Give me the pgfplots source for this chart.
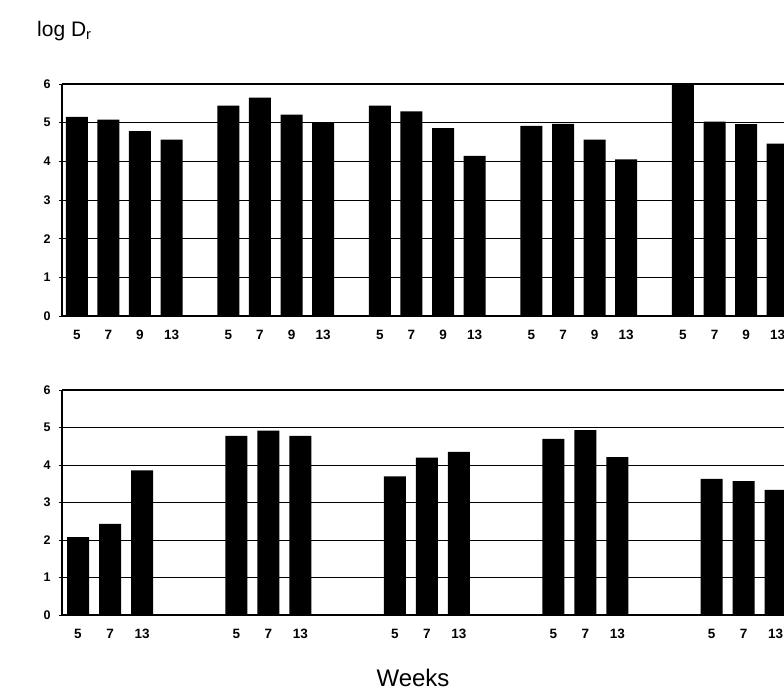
\documentclass[border=0pt]{standalone}
\usepackage{fontspec}
\setmainfont{Liberation Sans}
\usepackage{pgfplots}
\pgfplotsset{compat=1.18}
\pgfplotsset{
  panel/.style={
    scale only axis, width=722bp, anchor=south west,
    ymin=0, ymax=6, ytick={0,1,2,3,4,5},
    extra y ticks={6},
    extra y tick style={grid=major, major grid style={black, line width=2bp}},
    ymajorgrids, major grid style={black, line width=0.8bp},
    axis x line=bottom, axis y line=left,
    axis line style={-, black, line width=1.6bp},
    ytick style={black, line width=0.8bp}, major tick length=3bp, tick align=outside,
    xtick style={draw=none},
    yticklabel style={font=\fontsize{12.5bp}{12.5bp}\selectfont\bfseries, xshift=-5bp},
    xticklabel style={font=\fontsize{13.5bp}{13.5bp}\selectfont\bfseries, yshift=-8bp},
    /pgf/number format/assume math mode=true,
    clip=true,
  }
}
\begin{document}
\begin{tikzpicture}
\useasboundingbox (0,0) rectangle (784bp,-691bp);
\node[anchor=base west, inner sep=0] at (37bp,-36.5bp) {\fontsize{21bp}{21bp}\selectfont log D\textsubscript{r}};
\node[anchor=base, inner sep=0] at (413bp,-686bp) {\fontsize{24bp}{24bp}\selectfont Weeks};
\begin{axis}[panel, at={(62bp,-316bp)}, height=232bp, xmin=-0.47, xmax=22.4,
  xtick={0,1,2,3,4.8,5.8,6.8,7.8,9.6,10.6,11.6,12.6,14.4,15.4,16.4,17.4,19.2,20.2,21.2,22.2},
  xticklabels={5,7,9,13,5,7,9,13,5,7,9,13,5,7,9,13,5,7,9,13}]
\addplot[ybar, fill=black, draw=none, bar width=22bp] coordinates {
(0,5.15) (1,5.08) (2,4.78) (3,4.56)
(4.8,5.44) (5.8,5.65) (6.8,5.21) (7.8,5.0)
(9.6,5.44) (10.6,5.29) (11.6,4.86) (12.6,4.14)
(14.4,4.92) (15.4,4.97) (16.4,4.56) (17.4,4.05)
(19.2,6.0) (20.2,5.03) (21.2,4.96) (22.2,4.46)};
\end{axis}
\begin{axis}[panel, at={(62bp,-615bp)}, height=225bp, xmin=-0.5, xmax=22.06,
  xtick={0,1,2,4.95,5.95,6.95,9.9,10.9,11.9,14.85,15.85,16.85,19.8,20.8,21.8},
  xticklabels={5,7,13,5,7,13,5,7,13,5,7,13,5,7,13}]
\addplot[ybar, fill=black, draw=none, bar width=22bp] coordinates {
(0,2.08) (1,2.43) (2,3.86)
(4.95,4.78) (5.95,4.92) (6.95,4.78)
(9.9,3.70) (10.9,4.20) (11.9,4.35)
(14.85,4.70) (15.85,4.93) (16.85,4.21)
(19.8,3.63) (20.8,3.57) (21.8,3.34)};
\end{axis}
\end{tikzpicture}
\end{document}
